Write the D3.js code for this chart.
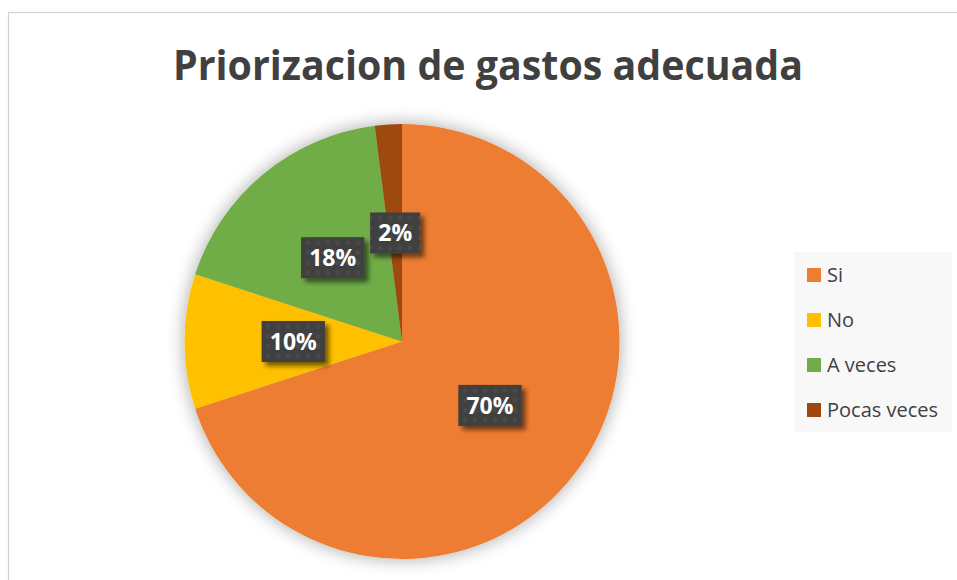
<!DOCTYPE html>
<html lang="es">
<head>
<meta charset="utf-8" />
<title>Priorizacion de gastos adecuada</title>
<script src="https://cdn.jsdelivr.net/npm/d3@7"></script>
<style>
  html, body { margin: 0; background: #fff; }
  svg { display: block; font-family: "Open Sans", sans-serif; }
</style>
</head>
<body>
<script>
// data
const categories = ["Si", "No", "A veces", "Pocas veces"];
const values = [70, 10, 18, 2];
const colors = ["#ED7D31", "#FFC000", "#70AD47", "#9E480E"];
const title = "Priorizacion de gastos adecuada";

const W = 957, H = 580;
const cx = 402, cy = 341.5, R = 217.5;

const svg = d3.select("body").append("svg")
  .attr("width", W).attr("height", H);

const defs = svg.append("defs");

// soft glow round the pie
const glow = defs.append("filter").attr("id", "pieShadow")
  .attr("x", "-20%").attr("y", "-20%").attr("width", "140%").attr("height", "140%");
glow.append("feGaussianBlur").attr("in", "SourceAlpha").attr("stdDeviation", 9).attr("result", "b");
glow.append("feComponentTransfer").attr("in", "b").attr("result", "b2")
  .append("feFuncA").attr("type", "linear").attr("slope", 0.35);
const gm = glow.append("feMerge");
gm.append("feMergeNode").attr("in", "b2");
gm.append("feMergeNode").attr("in", "SourceGraphic");

// drop shadow for the label boxes
const drop = defs.append("filter").attr("id", "boxShadow")
  .attr("x", "-30%").attr("y", "-30%").attr("width", "170%").attr("height", "180%");
drop.append("feGaussianBlur").attr("in", "SourceAlpha").attr("stdDeviation", 2.5).attr("result", "b");
drop.append("feOffset").attr("in", "b").attr("dx", 4).attr("dy", 4).attr("result", "o");
drop.append("feComponentTransfer").attr("in", "o").attr("result", "o2")
  .append("feFuncA").attr("type", "linear").attr("slope", 0.55);
const dm = drop.append("feMerge");
dm.append("feMergeNode").attr("in", "o2");
dm.append("feMergeNode").attr("in", "SourceGraphic");

// dotted dark texture
const pat = defs.append("pattern").attr("id", "dots")
  .attr("patternUnits", "userSpaceOnUse").attr("width", 10).attr("height", 10);
pat.append("rect").attr("width", 10).attr("height", 10).attr("fill", "#404040");
pat.append("circle").attr("cx", 5).attr("cy", 5).attr("r", 2.4).attr("fill", "#4a4a4a");

// chart area border
svg.append("rect")
  .attr("x", 8.5).attr("y", 12.5).attr("width", W + 10).attr("height", H + 10)
  .attr("fill", "#fff").attr("stroke", "#d0d0d0").attr("stroke-width", 1.2);

// title
svg.append("text")
  .attr("x", 488).attr("y", 80)
  .attr("text-anchor", "middle")
  .attr("font-size", 42).attr("font-weight", 700)
  .attr("fill", "#404040")
  .attr("textLength", 630).attr("lengthAdjust", "spacingAndGlyphs")
  .text(title);

// pie
const pie = d3.pie().sort(null).value(d => d)(values);
const arc = d3.arc().innerRadius(0).outerRadius(R);
const labelArc = d3.arc().innerRadius(R * 0.5).outerRadius(R * 0.5);

const g = svg.append("g").attr("transform", `translate(${cx},${cy})`);
g.append("g").attr("filter", "url(#pieShadow)")
  .selectAll("path").data(pie).join("path")
  .attr("d", arc)
  .attr("fill", (d, i) => colors[i]);

// data labels
const total = d3.sum(values);
const lab = g.selectAll("g.lab").data(pie).join("g")
  .attr("class", "lab")
  .attr("transform", d => `translate(${labelArc.centroid(d)})`);

lab.each(function(d) {
  const sel = d3.select(this);
  const t = sel.append("text")
    .attr("text-anchor", "middle")
    .attr("dy", "0.36em")
    .attr("font-size", 23).attr("font-weight", 700)
    .attr("fill", "#fff")
    .text(Math.round(d.value / total * 100) + "%");
  const bb = t.node().getBBox();
  const w = bb.width + 16, h = 41;
  sel.insert("rect", "text")
    .attr("x", -w / 2).attr("y", -h / 2)
    .attr("width", w).attr("height", h)
    .attr("fill", "url(#dots)")
    .attr("filter", "url(#boxShadow)");
});

// legend
svg.append("rect")
  .attr("x", 794).attr("y", 252).attr("width", 158).attr("height", 180)
  .attr("fill", "#f8f8f8");

const ly = d3.scalePoint().domain(categories).range([275, 410]);
const leg = svg.append("g").selectAll("g").data(categories).join("g")
  .attr("transform", d => `translate(807,${ly(d)})`);
leg.append("rect")
  .attr("x", 0).attr("y", -7).attr("width", 14).attr("height", 14)
  .attr("fill", (d, i) => colors[i]);
leg.append("text")
  .attr("x", 20).attr("dy", "0.36em")
  .attr("font-size", 20).attr("fill", "#404040")
  .text(d => d);
</script>
</body>
</html>
